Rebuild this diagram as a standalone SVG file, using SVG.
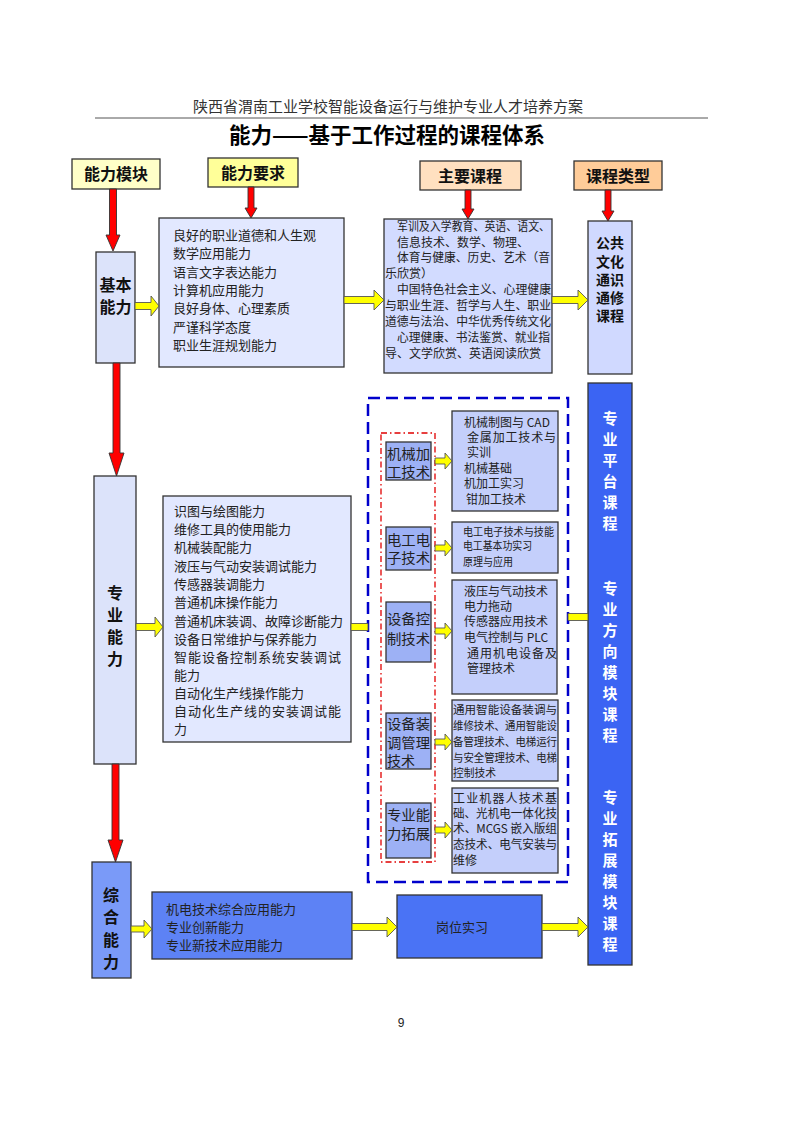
<svg xmlns="http://www.w3.org/2000/svg" width="800" height="1130" viewBox="0 0 800 1130">
<style>
text{font-family:"Noto Sans CJK SC","Liberation Sans",sans-serif;fill:#222}
.hd{font-size:15px;fill:#333}
.title{font-size:21.5px;font-weight:bold;fill:#000}
.lbl{font-size:16px;font-weight:bold;text-anchor:middle;fill:#111}
.bx{stroke:#333;stroke-width:1.3}
.t13{font-size:13px}
.t12{font-size:12px}
.t11{font-size:11.5px}
.m14{font-size:14px}
.vb{font-size:16px;font-weight:bold;text-anchor:middle;fill:#111}
.vw{font-size:15px;font-weight:bold;text-anchor:middle;fill:#fff}
.ya{fill:#FFFF00;stroke:#555;stroke-width:0.9}
.ra{fill:#FF0000;stroke:#333;stroke-width:0.9}
</style>
<rect width="800" height="1130" fill="#fff"/>
<g id="header">
<text class="hd" x="388" y="112" text-anchor="middle">陕西省渭南工业学校智能设备运行与维护专业人才培养方案</text>
<line x1="95" y1="118" x2="708" y2="118" stroke="#555" stroke-width="1"/>
<text class="title" x="387" y="143" text-anchor="middle">能力——基于工作过程的课程体系</text>
</g>
<g id="label-module"><rect class="bx" x="72" y="159" width="88" height="30" fill="#FFFFC8"/><text class="lbl" x="116" y="180">能力模块</text></g>
<g id="label-req"><rect class="bx" x="208" y="158" width="90" height="29" fill="#FFFF99"/><text class="lbl" x="253" y="178.5">能力要求</text></g>
<g id="label-course"><rect class="bx" x="420" y="161" width="101" height="29" fill="#FFE0C0"/><text class="lbl" x="470" y="181.5">主要课程</text></g>
<g id="label-type"><rect class="bx" x="574" y="161" width="88" height="29" fill="#FFCC99"/><text class="lbl" x="618" y="181.5">课程类型</text></g>

<g id="basic"><rect class="bx" x="96" y="252" width="39" height="111" fill="#DCE3FA"/>
<text class="vb"><tspan x="115.5" y="291">基本</tspan><tspan x="115.5" y="313">能力</tspan></text></g>

<g id="basic-req"><rect class="bx" x="159" y="218" width="185" height="149" fill="#E2E8FF"/>
<text class="t13" x="173" y="240">良好的职业道德和人生观</text>
<text class="t13" x="173" y="258.3">数学应用能力</text>
<text class="t13" x="173" y="276.6">语言文字表达能力</text>
<text class="t13" x="173" y="294.9">计算机应用能力</text>
<text class="t13" x="173" y="313.2">良好身体、心理素质</text>
<text class="t13" x="173" y="331.5">严谨科学态度</text>
<text class="t13" x="173" y="349.8">职业生涯规划能力</text></g>

<g id="basic-course"><rect class="bx" x="384" y="219" width="168" height="154" fill="#D2DBFF"/>
<text class="t12" x="397" y="230.6" textLength="153" lengthAdjust="spacingAndGlyphs">军训及入学教育、英语、语文、</text>
<text class="t12" x="397" y="246.5">信息技术、数学、物理、</text>
<text class="t12" x="397" y="262.4" textLength="153" lengthAdjust="spacingAndGlyphs">体育与健康、历史、艺术（音</text>
<text class="t12" x="385" y="278.3">乐欣赏）</text>
<text class="t12" x="397" y="294.2" textLength="154" lengthAdjust="spacingAndGlyphs">中国特色社会主义、心理健康</text>
<text class="t12" x="385" y="310.1" textLength="166" lengthAdjust="spacingAndGlyphs">与职业生涯、哲学与人生、职业</text>
<text class="t12" x="385" y="326" textLength="166" lengthAdjust="spacingAndGlyphs">道德与法治、中华优秀传统文化</text>
<text class="t12" x="397" y="341.9" textLength="153" lengthAdjust="spacingAndGlyphs">心理健康、书法鉴赏、就业指</text>
<text class="t12" x="385" y="357.8" textLength="156" lengthAdjust="spacingAndGlyphs">导、文学欣赏、英语阅读欣赏</text></g>

<g id="public-type"><rect class="bx" x="588" y="221" width="44" height="153" fill="#D0D9FF"/>
<text class="lbl" style="font-size:14px"><tspan x="610" y="248">公共</tspan><tspan x="610" y="267">文化</tspan><tspan x="610" y="285">通识</tspan><tspan x="610" y="303">通修</tspan><tspan x="610" y="321">课程</tspan></text></g>

<g id="prof"><rect class="bx" x="94" y="476" width="42" height="288" fill="#DCE3FA"/>
<text class="vb"><tspan x="115" y="599">专</tspan><tspan x="115" y="621">业</tspan><tspan x="115" y="643">能</tspan><tspan x="115" y="665">力</tspan></text></g>

<g id="prof-req"><rect class="bx" x="163" y="496" width="188" height="246" fill="#E2E8FF"/>
<text class="t13" x="174" y="516">识图与绘图能力</text>
<text class="t13" x="174" y="534">维修工具的使用能力</text>
<text class="t13" x="174" y="552">机械装配能力</text>
<text class="t13" x="174" y="571">液压与气动安装调试能力</text>
<text class="t13" x="174" y="589">传感器装调能力</text>
<text class="t13" x="174" y="607">普通机床操作能力</text>
<text class="t13" x="174" y="626">普通机床装调、故障诊断能力</text>
<text class="t13" x="174" y="644">设备日常维护与保养能力</text>
<text class="t13" x="174" y="662" textLength="167" lengthAdjust="spacing">智能设备控制系统安装调试</text>
<text class="t13" x="174" y="680">能力</text>
<text class="t13" x="174" y="698">自动化生产线操作能力</text>
<text class="t13" x="174" y="716" textLength="167" lengthAdjust="spacing">自动化生产线的安装调试能</text>
<text class="t13" x="174" y="734">力</text></g>

<g id="modules-frame">
<rect x="368" y="398" width="200" height="484" fill="none" stroke="#0000CC" stroke-width="2.5" stroke-dasharray="12,6"/>
<rect x="381" y="433" width="54" height="429" fill="none" stroke="#E00000" stroke-width="1.3" stroke-dasharray="6,3,1.5,3"/>
</g>

<g id="mod-mech"><rect class="bx" x="386" y="442" width="45" height="38" fill="#9DB1F5"/>
<text class="m14" x="387" y="458.5" textLength="43" lengthAdjust="spacingAndGlyphs">机械加</text>
<text class="m14" x="387" y="476.5" textLength="43" lengthAdjust="spacingAndGlyphs">工技术</text></g>
<g id="mod-elec"><rect class="bx" x="386" y="527" width="45" height="43" fill="#9DB1F5"/>
<text class="m14" x="387" y="545" textLength="43" lengthAdjust="spacingAndGlyphs">电工电</text>
<text class="m14" x="387" y="563" textLength="43" lengthAdjust="spacingAndGlyphs">子技术</text></g>
<g id="mod-ctrl"><rect class="bx" x="386" y="602" width="45" height="60" fill="#9DB1F5"/>
<text class="m14" x="387" y="623.5" textLength="43" lengthAdjust="spacingAndGlyphs">设备控</text>
<text class="m14" x="387" y="643.5" textLength="43" lengthAdjust="spacingAndGlyphs">制技术</text></g>
<g id="mod-mgmt"><rect class="bx" x="386" y="713" width="45" height="56" fill="#9DB1F5"/>
<text class="m14" x="387" y="728.5" textLength="43" lengthAdjust="spacingAndGlyphs">设备装</text>
<text class="m14" x="387" y="747.5" textLength="43" lengthAdjust="spacingAndGlyphs">调管理</text>
<text class="m14" x="387" y="765.5">技术</text></g>
<g id="mod-ext"><rect class="bx" x="386" y="803" width="45" height="55" fill="#9DB1F5"/>
<text class="m14" x="387" y="819.5" textLength="43" lengthAdjust="spacingAndGlyphs">专业能</text>
<text class="m14" x="387" y="838.5" textLength="43" lengthAdjust="spacingAndGlyphs">力拓展</text></g>

<g id="course-mech"><rect class="bx" x="452" y="411" width="106" height="100" fill="#C4CFFB"/>
<text class="t12" x="464" y="426.6">机械制图与 CAD</text>
<text class="t12" x="467" y="441.6" textLength="89" lengthAdjust="spacing">金属加工技术与</text>
<text class="t12" x="467" y="456.6">实训</text>
<text class="t12" x="464" y="472.6">机械基础</text>
<text class="t12" x="464" y="487.6">机加工实习</text>
<text class="t12" x="466" y="503.6">钳加工技术</text></g>
<g id="course-elec"><rect class="bx" x="452" y="522" width="106" height="51" fill="#C4CFFB"/>
<text class="t11" x="463" y="536.4" textLength="91" lengthAdjust="spacingAndGlyphs">电工电子技术与技能</text>
<text class="t11" x="463" y="550.4" textLength="69" lengthAdjust="spacingAndGlyphs">电工基本功实习</text>
<text class="t11" x="463" y="566.4" textLength="50" lengthAdjust="spacingAndGlyphs">原理与应用</text></g>
<g id="course-ctrl"><rect class="bx" x="452" y="580" width="105" height="114" fill="#C4CFFB"/>
<text class="t12" x="464" y="595.6">液压与气动技术</text>
<text class="t12" x="464" y="610.6">电力拖动</text>
<text class="t12" x="464" y="625.6">传感器应用技术</text>
<text class="t12" x="464" y="641.6">电气控制与 PLC</text>
<text class="t12" x="467" y="657.6" textLength="90" lengthAdjust="spacing">通用机电设备及</text>
<text class="t12" x="467" y="672.6">管理技术</text></g>
<g id="course-mgmt"><rect class="bx" x="452" y="700" width="106" height="81" fill="#C4CFFB"/>
<text class="t11" x="453" y="714.4" textLength="104" lengthAdjust="spacingAndGlyphs">通用智能设备装调与</text>
<text class="t11" x="453" y="730.4" textLength="104" lengthAdjust="spacingAndGlyphs">维修技术、通用智能设</text>
<text class="t11" x="453" y="746.4" textLength="104" lengthAdjust="spacingAndGlyphs">备管理技术、电梯运行</text>
<text class="t11" x="453" y="762.4" textLength="104" lengthAdjust="spacingAndGlyphs">与安全管理技术、电梯</text>
<text class="t11" x="453" y="777.4" textLength="43" lengthAdjust="spacingAndGlyphs">控制技术</text></g>
<g id="course-ext"><rect class="bx" x="452" y="788" width="106" height="85" fill="#C4CFFB"/>
<text class="t12" x="453" y="802.6" textLength="104" lengthAdjust="spacing">工业机器人技术基</text>
<text class="t12" x="453" y="817.6" textLength="104" lengthAdjust="spacingAndGlyphs">础、光机电一体化技</text>
<text class="t12" x="453" y="832.6" textLength="104" lengthAdjust="spacingAndGlyphs">术、MCGS 嵌入版组</text>
<text class="t12" x="453" y="848.6" textLength="104" lengthAdjust="spacingAndGlyphs">态技术、电气安装与</text>
<text class="t12" x="453" y="864.6">维修</text></g>

<g id="prof-type"><rect class="bx" x="588" y="383" width="44" height="582" fill="#3B64F3"/>
<text class="vw"><tspan x="610" y="423.7">专</tspan><tspan x="610" y="444.7">业</tspan><tspan x="610" y="465.7">平</tspan><tspan x="610" y="486.7">台</tspan><tspan x="610" y="507.7">课</tspan><tspan x="610" y="528.7">程</tspan></text>
<text class="vw"><tspan x="610" y="593.7">专</tspan><tspan x="610" y="614.7">业</tspan><tspan x="610" y="635.7">方</tspan><tspan x="610" y="656.7">向</tspan><tspan x="610" y="677.7">模</tspan><tspan x="610" y="698.7">块</tspan><tspan x="610" y="719.7">课</tspan><tspan x="610" y="740.7">程</tspan></text>
<text class="vw"><tspan x="610" y="802.7">专</tspan><tspan x="610" y="823.7">业</tspan><tspan x="610" y="844.7">拓</tspan><tspan x="610" y="865.7">展</tspan><tspan x="610" y="886.7">模</tspan><tspan x="610" y="907.7">块</tspan><tspan x="610" y="928.7">课</tspan><tspan x="610" y="949.7">程</tspan></text></g>

<g id="comp"><rect class="bx" x="92" y="862" width="39" height="116" fill="#7A9AF8"/>
<text class="vb"><tspan x="111" y="901">综</tspan><tspan x="111" y="923">合</tspan><tspan x="111" y="946">能</tspan><tspan x="111" y="968">力</tspan></text></g>
<g id="comp-req"><rect class="bx" x="152" y="892" width="200" height="67" fill="#5D82F5"/>
<text class="t13" x="166" y="914">机电技术综合应用能力</text>
<text class="t13" x="166" y="932">专业创新能力</text>
<text class="t13" x="166" y="950">专业新技术应用能力</text></g>
<g id="internship"><rect class="bx" x="397" y="895" width="145" height="63" fill="#4A73F5"/>
<text class="t13" x="462" y="932" text-anchor="middle">岗位实习</text></g>

<g id="connectors">
<path class="ra" d="M109.5,189 V235 H106 L113,251 L120,235 H116.5 V189 Z"/>
<path class="ra" d="M113,363 V453 H109 L116.5,476 L124,453 H120 V363 Z"/>
<path class="ra" d="M112,764 V840 H108 L115.5,862 L123,840 H119 V764 Z"/>
<path class="ra" d="M248,187 V208 H245 L251,218 L257,208 H254 V187 Z"/>
<path class="ra" d="M465,190 V209 H462 L468,219 L474,209 H471 V190 Z"/>
<path class="ra" d="M605,190 V211 H602 L608,221 L614,211 H611 V190 Z"/>
<path class="ya" d="M135,302.5 H151 V296 L159,306 L151,316 V309.5 H135 Z"/>
<path class="ya" d="M344,296.5 H374 V290 L384,300 L374,310 V303.5 H344 Z"/>
<path class="ya" d="M552,296.5 H578 V290 L588,300 L578,310 V303.5 H552 Z"/>
<path class="ya" d="M136,623.5 H155 V617 L163,627 L155,637 V630.5 H136 Z"/>
<path class="ya" d="M351,623.5 H368 V630.5 H351 Z"/>
<path class="ya" d="M568,613.5 H588 V620.5 H568 Z"/>
<path class="ya" d="M435,458 H445 V453 L452,461 L445,469 V464 H435 Z"/>
<path class="ya" d="M435,545 H445 V540 L452,548 L445,556 V551 H435 Z"/>
<path class="ya" d="M435,628 H445 V623 L452,631 L445,639 V634 H435 Z"/>
<path class="ya" d="M435,739 H445 V734 L452,742 L445,750 V745 H435 Z"/>
<path class="ya" d="M435,827 H445 V822 L452,830 L445,838 V833 H435 Z"/>
<path class="ya" d="M131,926 H144 V920 L152,929 L144,938 V932 H131 Z"/>
<path class="ya" d="M352,923.5 H387 V917 L397,927 L387,937 V930.5 H352 Z"/>
<path class="ya" d="M542,923.5 H578 V917 L588,927 L578,937 V930.5 H542 Z"/>
</g>
<text x="401" y="1027" text-anchor="middle" style="font-family:'Liberation Sans',sans-serif;font-size:12px;fill:#222">9</text>
</svg>
